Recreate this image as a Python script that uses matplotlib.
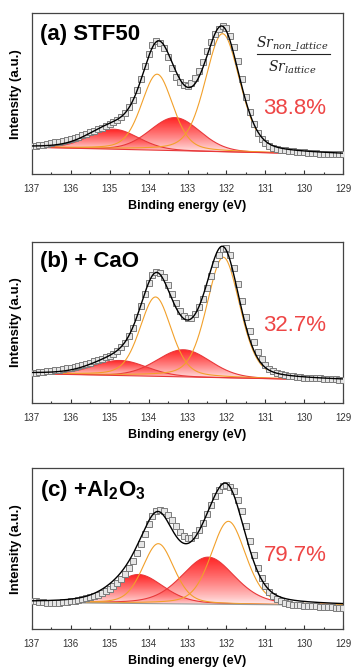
import numpy as np
import matplotlib
matplotlib.use("Agg")
import matplotlib.pyplot as plt
from matplotlib.patches import Polygon
from matplotlib.ticker import MultipleLocator, FormatStrFormatter

plt.rcParams["font.family"] = ["Liberation Sans", "DejaVu Sans"]
plt.rcParams["mathtext.fontset"] = "custom"
plt.rcParams["mathtext.rm"] = "Liberation Sans"
plt.rcParams["mathtext.bf"] = "Liberation Sans:bold"
plt.rcParams["mathtext.it"] = "DejaVu Serif:italic"

# === measured Sr 3d spectra (binding energy grid, 0.1 eV step) ===
energy = np.round(np.arange(137.0, 128.95, -0.1), 1)

stf50_counts = [
    28.0, 28.5, 29.0, 29.8, 30.6, 31.5, 32.1, 32.8, 33.5, 34.2,
    35.0, 36.2, 37.6, 39.0, 40.5, 42.0, 43.6, 45.2, 46.8, 48.4,
    50.0, 52.2, 54.5, 57.0, 61.5, 67.0, 74.5, 84.0, 95.5, 108.0,
    120.0, 129.0, 133.0, 131.5, 126.0, 117.0, 106.5, 97.5, 92.0, 89.5,
    88.0, 91.5, 96.5, 103.0, 112.5, 123.0, 132.5, 140.0, 145.5, 148.0,
    146.0, 138.0, 127.0, 113.0, 95.0, 77.0, 62.0, 50.0, 41.5, 35.0,
    31.0, 28.3, 26.8, 25.6, 24.7, 24.0, 23.5, 23.1, 22.7, 22.3,
    22.0, 21.7, 21.4, 21.1, 20.8, 20.6, 20.5, 20.4, 20.2, 20.1, 20.0,
]
cao_counts = [
    30.0, 30.3, 30.7, 31.2, 31.7, 32.3, 32.9, 33.5, 34.2, 34.9,
    35.6, 36.5, 37.5, 38.5, 39.5, 40.6, 41.8, 43.1, 44.4, 45.8,
    47.3, 49.6, 52.3, 55.6, 60.5, 67.3, 75.5, 85.6, 97.0, 109.0,
    120.0, 128.0, 131.3, 130.0, 125.6, 118.0, 109.0, 100.0, 92.3, 87.0,
    84.5, 85.0, 89.0, 95.5, 104.0, 115.0, 127.3, 138.5, 147.3, 154.0,
    155.0, 147.3, 135.0, 119.0, 102.0, 85.6, 72.0, 60.6, 51.5, 44.0,
    38.5, 34.6, 32.3, 30.6, 29.2, 28.0, 27.4, 26.9, 26.4, 26.0,
    25.6, 25.4, 25.2, 25.0, 24.8, 24.6, 24.4, 24.1, 23.8, 23.5, 23.3,
]
al2o3_counts = [
    28.5, 28.0, 27.5, 27.0, 26.6, 26.4, 26.4, 26.6, 27.0, 27.4,
    28.0, 28.7, 29.4, 30.2, 31.1, 32.0, 33.3, 34.7, 36.4, 38.4,
    40.6, 43.4, 46.6, 50.3, 55.6, 61.5, 68.8, 76.0, 85.5, 95.5,
    105.0, 113.0, 118.0, 119.7, 118.5, 114.7, 109.0, 103.0, 97.5, 93.0,
    91.5, 91.8, 94.0, 99.5, 106.3, 115.5, 124.7, 133.0, 139.7, 143.5,
    144.7, 142.5, 138.0, 129.5, 118.0, 103.5, 88.0, 74.0, 61.3, 51.0,
    43.0, 37.3, 33.0, 30.2, 28.0, 26.5, 25.3, 24.8, 24.4, 24.0,
    23.7, 23.4, 23.2, 23.0, 22.6, 22.3, 22.1, 21.9, 21.7, 21.5, 21.3,
]

# fitted components: (center eV, height, fwhm eV, lorentz fraction)
stf50_lattice = [(133.78, 76, 0.95, 0.3), (132.10, 118, 1.05, 0.3)]
stf50_nonlattice = [(134.90, 20, 1.5, 0.1), (133.32, 33, 1.5, 0.1)]
cao_lattice = [(133.82, 79, 0.95, 0.3), (132.08, 120, 1.0, 0.3)]
cao_nonlattice = [(134.73, 15, 1.6, 0.1), (133.10, 27, 1.6, 0.1)]
al2o3_lattice = [(133.75, 60, 0.95, 0.3), (131.95, 83, 1.05, 0.3)]
al2o3_nonlattice = [(134.26, 29, 1.5, 0.3), (132.47, 47, 1.6, 0.3)]

# background level at 137 eV and 129 eV
stf50_bg = (27.0, 19.8)
cao_bg = (29.5, 23.0)
al2o3_bg = (26.8, 23.9)

titles = ["(a) STF50", "(b) + CaO", r"(c) +Al$_\mathbf{2}$O$_\mathbf{3}$"]
ratios = ["38.8%", "32.7%", "79.7%"]

RED = "#e8383a"
ORANGE = "#f2a02a"
PCT_RED = "#ee4646"


def pseudo_voigt(x, c, h, w, eta):
    g = np.exp(-4 * np.log(2) * (x - c) ** 2 / w ** 2)
    l = 1.0 / (1.0 + 4 * (x - c) ** 2 / w ** 2)
    return h * ((1 - eta) * g + eta * l)


def gradient_fill(ax, x, y_low, y_high):
    keep = (y_high - y_low) > 0.3
    xs, lo, hi = x[keep], y_low[keep], y_high[keep]
    verts = np.column_stack([np.concatenate([xs, xs[::-1]]),
                             np.concatenate([hi, lo[::-1]])])
    patch = Polygon(verts, closed=True, facecolor="none", edgecolor="none")
    ax.add_patch(patch)
    grad = np.zeros((256, 1, 4))
    grad[..., 0] = 1.0
    grad[..., 1] = 0.13
    grad[..., 2] = 0.13
    grad[:, 0, 3] = 0.05 + 0.95 * np.linspace(0, 1, 256) ** 0.8
    im = ax.imshow(grad, extent=[xs.max(), xs.min(), lo.min(), hi.max()],
                   origin="lower", aspect="auto", zorder=1, interpolation="bilinear")
    im.set_clip_path(patch)


def draw_panel(ax, counts, lattice, nonlattice, bg, gray_bg=False):
    e_fine = np.linspace(137, 129, 801)
    base = np.interp(e_fine, [129, 137], [bg[1], bg[0]])
    total = base.copy()
    for p in nonlattice:
        y = pseudo_voigt(e_fine, *p)
        total += y
        gradient_fill(ax, e_fine, base, base + y)
        ax.plot(e_fine, base + y, color=RED, lw=0.8, zorder=2)
    for p in lattice:
        y = pseudo_voigt(e_fine, *p)
        total += y
        ax.plot(e_fine, base + y, color=ORANGE, lw=0.8, zorder=2)
    ax.plot(e_fine, base, color="#999999" if gray_bg else RED, lw=0.8, zorder=2)
    ax.plot(energy, counts, "s", ms=3.7, mfc="#e6e6e6", mec="#7c7c7c", mew=0.7, zorder=3)
    ax.plot(e_fine, total, color="black", lw=1.0, zorder=4)

    ax.set_xlim(137, 129)
    ax.set_ylim(0, 161)
    ax.set_aspect("auto")
    ax.set_yticks([])
    ax.xaxis.set_major_locator(MultipleLocator(1))
    ax.xaxis.set_minor_locator(MultipleLocator(0.5))
    ax.xaxis.set_major_formatter(FormatStrFormatter("%d"))
    ax.tick_params(axis="x", which="both", direction="in", top=False,
                   labelsize=7, pad=7, labelcolor="#333333", color="#333333")
    ax.tick_params(axis="x", which="major", length=3, width=0.8)
    ax.tick_params(axis="x", which="minor", length=1.8, width=0.8)
    for s in ax.spines.values():
        s.set_color("#444444")
        s.set_linewidth(0.9)
    ax.set_xlabel("Binding energy (eV)", fontsize=9, fontweight="bold", labelpad=4)
    ax.set_ylabel("Intensity (a.u.)", fontsize=9.5, fontweight="bold", labelpad=7)


def main():
    W, H = 352, 668
    fig = plt.figure(figsize=(W / 100, H / 100), dpi=100)

    # axes boxes in pixels: (left, top, right, bottom)
    boxes = [(31.7, 13.3, 343.3, 174.3), (31.7, 241.7, 343.3, 403.3), (31.7, 468.3, 343.3, 629.3)]
    data = [
        (stf50_counts, stf50_lattice, stf50_nonlattice, stf50_bg),
        (cao_counts, cao_lattice, cao_nonlattice, cao_bg),
        (al2o3_counts, al2o3_lattice, al2o3_nonlattice, al2o3_bg),
    ]
    title_y = [0.871, 0.88, 0.863]
    ratio_y = [0.41, 0.483, 0.46]

    for i, (l, t, r, b) in enumerate(boxes):
        ax = fig.add_axes([l / W, 1 - b / H, (r - l) / W, (b - t) / H])
        counts, lat, nonlat, bg = data[i]
        draw_panel(ax, counts, lat, nonlat, bg, gray_bg=(i == 2))
        ax.text(0.027, title_y[i], titles[i], transform=ax.transAxes,
                fontsize=16, fontweight="bold", ha="left", va="center")
        ax.text(0.845, ratio_y[i], ratios[i], transform=ax.transAxes,
                fontsize=16, color=PCT_RED, ha="center", va="center")
        if i == 0:
            ax.text(0.835, 0.807, r"$Sr_{non\_lattice}$", transform=ax.transAxes,
                    fontsize=10, ha="center", va="center", color="#222222")
            ax.text(0.835, 0.665, r"$Sr_{lattice}$", transform=ax.transAxes,
                    fontsize=10, ha="center", va="center", color="#222222")
            ax.plot([0.723, 0.957], [0.745, 0.745], transform=ax.transAxes,
                    color="#222222", lw=0.8, zorder=5)

    fig.savefig("out.png", dpi=100)


if __name__ == "__main__":
    main()
